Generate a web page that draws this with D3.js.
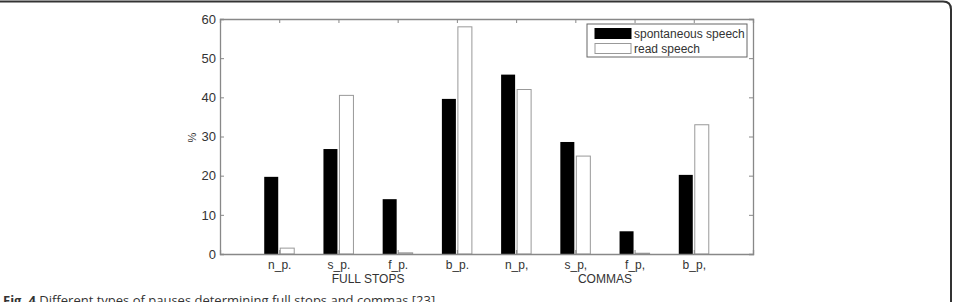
<!DOCTYPE html>
<html>
<head>
<meta charset="utf-8">
<script src="https://cdn.jsdelivr.net/npm/d3@7"></script>
<style>
  body { margin: 0; background: #fff; }
  svg { display: block; }
</style>
</head>
<body>
<div id="chart"></div>
<script>
  // Categories and values
  const categories = ["n_p.", "s_p.", "f_p.", "b_p.", "n_p,", "s_p,", "f_p,", "b_p,"];
  const spontaneous = [19.7, 26.8, 14.0, 39.6, 45.8, 28.6, 5.8, 20.2];
  const readSpeech = [1.5, 40.5, 0.3, 58.0, 42.0, 25.0, 0.2, 33.0];
  const yTicks = [0, 10, 20, 30, 40, 50, 60];
  const groups = [{label: "FULL STOPS", at: 2.5}, {label: "COMMAS", at: 6.5}];
  const seriesNames = ["spontaneous speech", "read speech"];

  const W = 955, H = 302;
  const margin = {top: 19, right: 202, bottom: 48, left: 220};
  const width = W - margin.left - margin.right;
  const height = H - margin.top - margin.bottom;

  const svg = d3.select("#chart").append("svg")
    .attr("width", W)
    .attr("height", H);

  // frame around the figure (top and right edges with rounded corner)
  svg.append("path")
    .attr("d", `M0,1.5 H${W - 12} Q${W - 4},1.5 ${W - 4},9.5 V${H}`)
    .attr("fill", "none")
    .attr("stroke", "#333")
    .attr("stroke-width", 2);

  const g = svg.append("g")
    .attr("transform", `translate(${margin.left},${margin.top})`);

  // MATLAB-style x: categories at 1..8, limits 0..9
  const x = d3.scaleLinear().domain([0, 9]).range([0, width]);
  const y = d3.scaleLinear().domain([0, 60]).range([height, 0]);
  const barW = 14;

  const axisColor = "#888";
  const font = "Liberation Sans, Arial, sans-serif";

  // bars
  g.selectAll(".spont")
    .data(spontaneous)
    .join("rect")
      .attr("class", "spont")
      .attr("x", (d, i) => x(i + 1) - barW - 1)
      .attr("y", d => y(d))
      .attr("width", barW)
      .attr("height", d => height - y(d))
      .attr("fill", "#000");

  g.selectAll(".read")
    .data(readSpeech)
    .join("rect")
      .attr("class", "read")
      .attr("x", (d, i) => x(i + 1) + 1)
      .attr("y", d => y(d))
      .attr("width", barW)
      .attr("height", d => height - y(d))
      .attr("fill", "#fff")
      .attr("stroke", "#999")
      .attr("stroke-width", 1);

  // axes (box with inward ticks on all sides)
  const tickIdx = d3.range(1, categories.length + 1);
  const xAxisB = g.append("g")
    .attr("transform", `translate(0,${height})`)
    .call(d3.axisBottom(x).tickValues(tickIdx).tickSize(-4).tickFormat((d) => categories[d - 1]).tickPadding(6));
  const xAxisT = g.append("g")
    .call(d3.axisTop(x).tickValues(tickIdx).tickSize(-4).tickFormat(""));
  const yAxisL = g.append("g")
    .call(d3.axisLeft(y).tickValues(yTicks).tickSize(-4).tickPadding(4));
  const yAxisR = g.append("g")
    .attr("transform", `translate(${width},0)`)
    .call(d3.axisRight(y).tickValues(yTicks).tickSize(-4).tickFormat(""));

  [xAxisB, xAxisT, yAxisL, yAxisR].forEach(a => {
    a.select(".domain").attr("stroke", axisColor).attr("stroke-width", 1.3);
    a.selectAll(".tick line").attr("stroke", axisColor);
    a.selectAll("text")
      .attr("fill", "#333")
      .style("font-family", font)
      .style("font-size", "12px");
  });
  yAxisL.selectAll("text").style("font-size", "13px");

  // group labels
  g.selectAll(".grp")
    .data(groups)
    .join("text")
      .attr("class", "grp")
      .attr("x", d => x(d.at))
      .attr("y", height + 29)
      .attr("text-anchor", "middle")
      .attr("fill", "#333")
      .style("font-family", font)
      .style("font-size", "12px")
      .text(d => d.label);

  // y label
  g.append("text")
    .attr("transform", `translate(${-24},${y(30) + 1}) rotate(-90)`)
    .attr("text-anchor", "middle")
    .attr("fill", "#333")
    .style("font-family", font)
    .style("font-size", "11px")
    .text("%");

  // legend
  const leg = g.append("g").attr("transform", `translate(${width - 166},5)`);
  leg.append("rect")
    .attr("width", 160).attr("height", 33)
    .attr("fill", "#fff").attr("stroke", "#666");
  leg.selectAll(".sw")
    .data(seriesNames)
    .join("rect")
      .attr("class", "sw")
      .attr("x", 8).attr("y", (d, i) => 4.5 + i * 15)
      .attr("width", 36).attr("height", 10)
      .attr("fill", (d, i) => i === 0 ? "#000" : "#fff")
      .attr("stroke", (d, i) => i === 0 ? "#000" : "#999");
  leg.selectAll(".lt")
    .data(seriesNames)
    .join("text")
      .attr("class", "lt")
      .attr("x", 47).attr("y", (d, i) => 13.5 + i * 15)
      .attr("fill", "#333")
      .style("font-family", font)
      .style("font-size", "12px")
      .text(d => d);

  // caption (cut by the bottom edge, as in the source image)
  const cap = svg.append("text")
    .attr("x", 3).attr("y", 305)
    .attr("fill", "#333")
    .style("font-family", "Open Sans, Noto Sans, sans-serif")
    .style("font-size", "13px");
  cap.append("tspan").style("font-weight", "bold").text("Fig. 4");
  cap.append("tspan").text(" Different types of pauses determining full stops and commas [23]");
</script>
</body>
</html>
